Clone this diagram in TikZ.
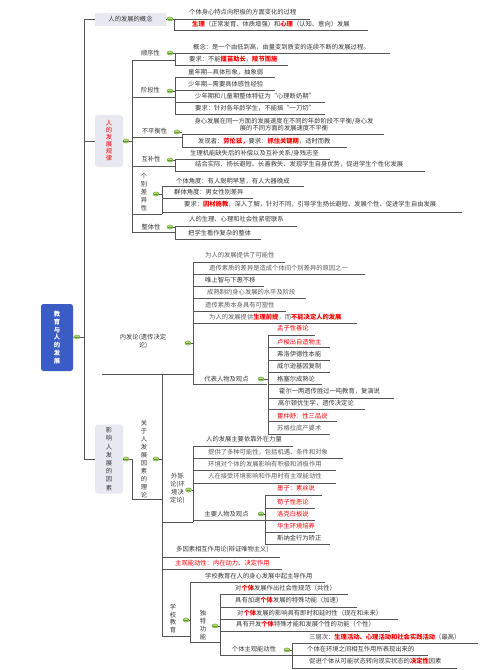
\documentclass[tikz,border=0pt]{standalone}
\usepackage{fontspec}
\setmainfont{Noto Sans CJK SC}
\usetikzlibrary{shapes.geometric}
\definecolor{lnc}{HTML}{555555}
\definecolor{txc}{HTML}{383838}
\definecolor{txg}{HTML}{5E5E5E}
\definecolor{hr}{HTML}{FF0000}
\definecolor{boxc}{HTML}{E8E8F0}
\definecolor{rootc}{HTML}{3B5CC4}
\definecolor{tgf}{HTML}{B5DC7A}
\definecolor{tgd}{HTML}{5E9A2C}
\newcommand\fs{\fontsize{6.3}{7}\selectfont}
\newcommand\rb[1]{\textcolor{hr}{\textbf{#1}}}
\newcommand\ch[8]{\node[txt,#1] (#2) at (#3,#4) {#5}; \draw[ln] (#6,#8) -- (#7,#8);}
\begin{document}
\begin{tikzpicture}[x=1pt,y=-1pt,
  ln/.style={draw=lnc,line width=0.6pt},
  txt/.style={anchor=west,inner sep=0pt,font=\fs,text=txc},
  lab/.style={anchor=center,inner sep=0pt,font=\fs,text=txc},
  vtxt/.style={anchor=center,inner sep=0pt,align=center,text=txc},
  l1box/.style={fill=boxc,inner sep=0pt,font=\fs,text=txc,align=center},
  rootbox/.style={fill=rootc,rounded corners=2.5pt,inner sep=0pt,minimum width=32pt,minimum height=67pt,text=white,font=\bfseries\fontsize{6.3}{7.8}\selectfont,align=center},
  togg/.style={ellipse,draw=tgd,fill=tgf,line width=0.4pt,minimum width=6pt,minimum height=4.2pt,inner sep=0pt,
    path picture={\draw[tgd,line width=0.5pt] ([xshift=-1.6pt]path picture bounding box.center) -- ([xshift=1.6pt]path picture bounding box.center);}}
]
\useasboundingbox (0,0) rectangle (503,670);
\fill[white] (0,0) rectangle (503,670);

% root and trunk
\node[rootbox] (root) at (57,337.5) {教\\育\\与\\人\\的\\发\\展};
\node[togg] (t0) at (77,337) {};
\coordinate (trtop) at (84,19);
\coordinate (trmid) at (84,337);
\coordinate (trbot) at (84,459);
\draw[ln] (root.east) -- (t0.west);
\draw[ln] (t0.east) -- (trmid);
\draw[ln] (trtop) -- (trbot);

% ===== 人的发展的概念
\node[l1box,minimum width=71pt,minimum height=13pt] (n1) at (130.5,19) {人的发展的概念};
\draw[ln] (trtop) -- (n1.west);
\node[togg] (g1) at (170,19) {};
\draw[ln] (n1.east) -- (g1.west);
\draw[ln] (g1.east) -- (174,19);
\draw[ln] (174,19) -- (174,30);
\ch{}{a1}{189}{12.5}{个体身心特点向积极的方面变化的过程}{174}{310}{19}
\ch{}{a2}{192}{24.5}{\rb{生理}（正常发育、体质增强）和\rb{心理}（认知、意向）发展}{174}{368}{30}

% ===== 人的发展规律
\node[l1box,rounded corners=3pt,minimum width=28pt,minimum height=52pt,text=hr,font=\fontsize{6.3}{7}\selectfont] (n2) at (109,141) {人\\的\\发\\展\\规\\律};
\draw[ln] (84,141) -- (n2.west);
\node[togg] (g2) at (126,141) {};
\draw[ln] (n2.east) -- (g2.west);
\draw[ln] (g2.east) -- (132,141);
\draw[ln] (132,60) -- (132,232);

% 顺序性
\node[lab] (s1) at (150.5,53) {顺序性};
\draw[ln] (132,60) -- (175,60);
\node[togg] (gs1) at (170,53) {};
\draw[ln] (gs1.east) -- (175,53);
\draw[ln] (175,53) -- (175,65);
\ch{}{s1a}{193}{47}{概念：是一个由低到高，由量变到质变的连续不断的发展过程。}{175}{390}{53}
\ch{}{s1b}{189}{59}{要求：不能\rb{揠苗助长}，\rb{陵节而施}}{175}{288}{65}

% 阶段性
\node[lab] (s2) at (150.5,90) {阶段性};
\draw[ln] (132,97) -- (175,97);
\node[togg] (gs2) at (170,91) {};
\draw[ln] (gs2.east) -- (175,91);
\draw[ln] (175,77) -- (175,114);
\ch{}{s2a}{188}{72}{童年期—具体形象，抽象弱}{175}{275}{77}
\ch{}{s2b}{188}{84}{少年期—需要具体感性经验}{175}{275}{90}
\ch{}{s2c}{195}{96}{少年期和儿童期整体特征为“心理断奶期”}{175}{325}{102}
\ch{}{s2d}{195}{108}{要求：针对各年龄学生，不能搞“一刀切”}{175}{325}{114}

% 不平衡性
\node[lab] (s3) at (154.5,131) {不平衡性};
\draw[ln] (132,137) -- (182,137);
\node[togg] (gs3) at (177,132) {};
\draw[ln] (gs3.east) -- (182,132);
\draw[ln] (182,134) -- (182,147);
\node[lab,align=center,font=\fontsize{6.3}{6.8}\selectfont] (s3a) at (284,124.5) {身心发展在同一方面的发展速度在不同的年龄阶段不平衡/身心发\\展的不同方面的发展速度不平衡};
\draw[ln] (182,134) -- (384,134);
\ch{}{s3b}{198}{141}{发现者：\rb{劳伦兹，}要求：\rb{抓住关键期}，适时而教}{182}{347}{147}

% 互补性
\node[lab] (s4) at (151,159) {互补性};
\draw[ln] (132,166) -- (175,166);
\node[togg] (gs4) at (170,160) {};
\draw[ln] (gs4.east) -- (175,160);
\draw[ln] (175,159) -- (175,171);
\ch{}{s4a}{190}{153}{生理机能缺失后的补偿以及互补关系/身残志坚}{175}{330}{159}
\ch{}{s4b}{195}{164.5}{结合实际、扬长避短、长善救失、发现学生自身优势，促进学生个性化发展}{175}{425}{171}

% 个别差异性
\node[vtxt,font=\fontsize{6.3}{8}\selectfont] (s5) at (144,192) {个\\别\\差\\异\\性};
\draw[ln] (132,214) -- (162,214);
\node[togg] (gs5) at (156,194) {};
\draw[ln] (gs5.east) -- (162,194);
\draw[ln] (162,186) -- (162,214);
\ch{}{s5a}{176}{181}{个体角度：有人聪明早慧，有人大器晚成}{162}{304}{186}
\ch{}{s5b}{174}{192.5}{群体角度：男女性别差异}{162}{253}{198}
\ch{}{s5c}{184}{204.5}{要求：\rb{因材施教}，深入了解，针对不同，引导学生扬长避短、发展个性、促进学生自由发展}{162}{462}{212}

% 整体性
\node[lab] (s6) at (151,227) {整体性};
\draw[ln] (132,232) -- (175,232);
\node[togg] (gs6) at (170,227) {};
\draw[ln] (gs6.east) -- (175,227);
\draw[ln] (175,226) -- (175,239);
\ch{}{s6a}{189}{219.5}{人的生理、心理和社会性紧密联系}{175}{297}{226}
\ch{}{s6b}{188}{233}{把学生看作复杂的整体}{175}{261}{239}

% ===== 影响人发展的因素
\node[l1box,rounded corners=3pt,minimum width=28pt,minimum height=69pt,font=\fontsize{6.3}{8.2}\selectfont] (n3) at (109,459) {影\\响\\人\\发\\展\\的\\因\\素};
\draw[ln] (trbot) -- (n3.west);
\node[togg] (g3) at (126,459) {};
\draw[ln] (n3.east) -- (g3.west);
\draw[ln] (g3.east) -- (132,459) -- (132,499) -- (162,499);
\node[vtxt,font=\fontsize{6.3}{7.9}\selectfont] (k) at (144,459) {关\\于\\人\\发\\展\\因\\素\\的\\理\\论};
\node[togg] (gk) at (156,459) {};
\draw[ln] (gk.east) -- (162,459);
\draw[ln] (162,374) -- (162,636);

% 内发论
\node[lab,align=center,font=\fontsize{6.3}{8.4}\selectfont] (nf) at (143,341.5) {内发论(遗传决定\\论)};
\draw[ln] (102,374) -- (193,374);
\node[togg] (gnf) at (188,343) {};
\draw[ln] (gnf.east) -- (193,343);
\draw[ln] (193,262) -- (193,384);
\ch{text=txg}{nf1}{205}{255}{为人的发展提供了可能性}{193}{285}{262}
\ch{text=txg}{nf2}{209}{268}{遗传素质的差异是造成个体间个别差异的原因之一}{193}{365}{274}
\ch{}{nf3}{205}{280}{唯上智与下愚不移}{193}{264}{286}
\ch{text=txg}{nf4}{207}{292}{成熟制约身心发展的水平及阶段}{193}{306}{298}
\ch{text=txg}{nf5}{205}{305}{遗传素质本身具有可塑性}{193}{286}{311}
\ch{text=txg}{nf6}{209}{317}{为人的发展提供\rb{生理前提}，而\rb{不能决定人的发展}}{193}{357}{323}
\node[lab] (db) at (226.5,379) {代表人物及观点};
\draw[ln] (193,384) -- (267,384);
\node[togg] (gdb) at (261,379) {};
\draw[ln] (gdb.east) -- (268,379);
\draw[ln] (268,335) -- (268,434);
\ch{text=hr}{d1}{277}{328}{孟子性善论}{268}{315}{335}
\ch{text=hr}{d2}{277}{342}{卢梭出自造物主}{268}{330}{347}
\ch{}{d3}{277}{354}{弗洛伊德性本能}{268}{330}{360}
\ch{}{d4}{277}{366}{威尔逊基因复制}{268}{330}{372}
\ch{}{d5}{277}{379}{格塞尔成熟论}{268}{322}{384}
\ch{}{d6}{279}{391}{霍尔一两遗传胜过一吨教育，复演说}{268}{394}{398}
\ch{}{d7}{278}{403}{高尔顿优生学，遗传决定论}{268}{365}{409}
\ch{text=hr}{d8}{277}{416}{董仲舒：性三品说}{268}{337}{421}
\ch{text=txg}{d9}{277}{428}{苏格拉底产婆术}{268}{330}{434}

% 外铄论
\node[lab,align=center,font=\fontsize{6.3}{7.7}\selectfont] (wf) at (177.5,488.5) {外铄\\论(环\\境决\\定论)};
\draw[ln] (162,522) -- (193,522);
\node[togg] (gwf) at (188.5,490) {};
\draw[ln] (gwf.east) -- (193,490);
\draw[ln] (193,446) -- (193,522);
\ch{}{w1}{206}{439}{人的发展主要依靠外在力量}{193}{293}{446}
\ch{text=txg}{w2}{208}{452}{提供了多种可能性，包括机遇、条件和对象}{193}{343}{458}
\ch{text=txg}{w3}{208}{464}{环境对个体的发展影响有积极和消极作用}{193}{336}{470}
\ch{text=txg}{w4}{208}{476}{人在接受环境影响和作用时有主观能动性}{193}{336}{483}
\node[lab] (zy) at (226.5,514) {主要人物及观点};
\draw[ln] (193,520) -- (265,520);
\node[togg] (gzy) at (261,514) {};
\draw[ln] (gzy.east) -- (265,514);
\draw[ln] (265,495) -- (265,544);
\ch{text=hr}{z1}{277}{488}{墨子：素丝说}{265}{322}{495}
\ch{text=hr}{z2}{277}{502}{荀子性恶论}{265}{315}{508}
\ch{text=hr}{z3}{277}{514}{洛克白板说}{265}{315}{520}
\ch{text=hr}{z4}{277}{526}{华生环境培养}{265}{315}{532}
\ch{}{z5}{277}{538}{斯纳金行为矫正}{265}{330}{544}

% 多因素 / 主观能动性
\ch{}{m1}{176}{549.5}{多因素相互作用论(辩证唯物主义)}{162}{280}{557}
\ch{text=hr}{m2}{175}{563}{主观能动性：内在动力、决定作用}{162}{282}{569}

% 学校教育
\node[vtxt,font=\fontsize{6.3}{7.7}\selectfont] (xx) at (173,618.5) {学\\校\\教\\育};
\draw[ln] (162,636) -- (190,636);
\node[togg] (gxx) at (186,620) {};
\draw[ln] (gxx.east) -- (190,620);
\draw[ln] (190,582) -- (190,642);
\ch{}{x1}{205}{576}{学校教育在人的身心发展中起主导作用}{190}{325}{582}
\node[vtxt,font=\fontsize{6.3}{8}\selectfont] (dt) at (203,625) {独\\特\\功\\能};
\draw[ln] (190,642) -- (220,642);
\node[togg] (gdt) at (215,626) {};
\draw[ln] (gdt.east) -- (220,626);
\draw[ln] (220,594) -- (220,655);
\ch{}{t1}{235}{588}{对\rb{个体}发展作出社会性规范（共性）}{220}{348}{594}
\ch{}{t2}{235}{600.5}{具有加速\rb{个体}发展的特殊功能（加速）}{220}{357}{607}
\ch{}{t3}{237}{613}{对\rb{个体}发展的影响具有即时和延时性（现在和未来）}{220}{398}{619}
\ch{}{t4}{236}{624.5}{具有开发\rb{个体}特殊才能和发展个性的功能（个性）}{220}{390}{631}
\node[lab] (zg) at (254,649.5) {个体主观能动性};
\draw[ln] (220,655) -- (292,655);
\node[togg] (gzg) at (287,650) {};
\draw[ln] (gzg.east) -- (292,650);
\draw[ln] (292,643) -- (292,668);
\ch{}{e1}{309}{637}{三层次：\rb{生理活动、心理活动和社会实践活动}（最高）}{292}{478}{643}
\ch{}{e2}{307}{649.5}{个体在环境之间相互作用所表现出来的}{292}{428}{655}
\ch{}{e3}{309}{661.5}{促进个体从可能状态转向现实状态的\rb{决定性}因素}{292}{457}{668}
\end{tikzpicture}
\end{document}
